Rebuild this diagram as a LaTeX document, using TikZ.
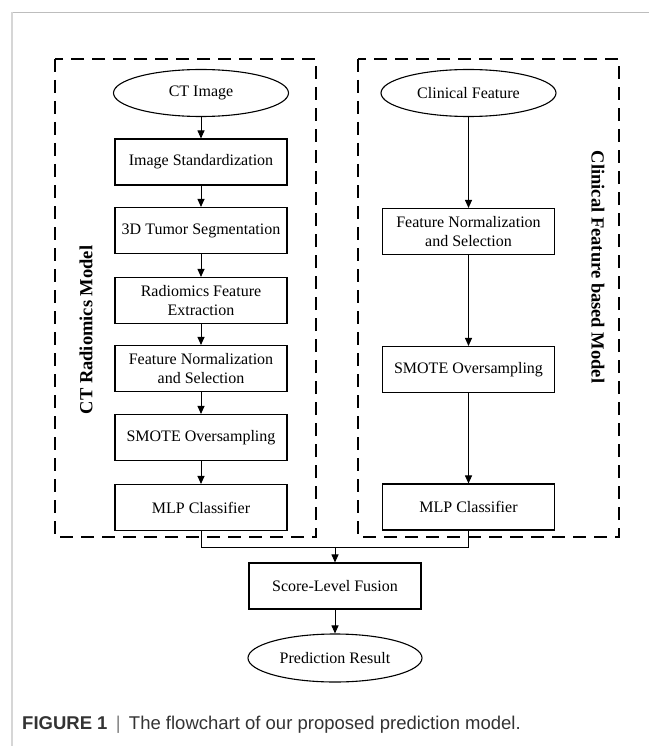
\documentclass[tikz,border=0pt]{standalone}
\usepackage{fontspec}
\setmainfont{Liberation Serif}
\newfontfamily\capfont{Liberation Sans}
\usetikzlibrary{arrows.meta,shapes.geometric}
\definecolor{framegray}{HTML}{BDBDBD}
\definecolor{framegrayl}{HTML}{D6D6D6}
\definecolor{captext}{HTML}{333333}
\tikzset{
  boxtext/.style={font=\fontsize{16}{19}\selectfont, align=center},
  procbox/.style={boxtext, draw, line width=1.1pt, rectangle, minimum width=172pt, minimum height=46pt, inner sep=0pt},
  termnode/.style={boxtext, draw, line width=1.1pt, ellipse, minimum width=175pt, minimum height=47pt, inner sep=0pt},
  conn/.style={line width=1pt},
  arr/.style={conn, -{Triangle[length=8pt,width=7pt]}},
  dashbox/.style={line width=1.9pt, dash pattern=on 13pt off 8pt},
  sidelabel/.style={font=\bfseries\fontsize{18.5}{20}\selectfont}
}
\begin{document}
\begin{tikzpicture}[x=1pt,y=-1pt]
\useasboundingbox (0,0) rectangle (649,746);
% outer frame
\draw[framegray, line width=1pt] (11,12.5) -- (649,12.5);
\draw[framegrayl, line width=2.2pt] (12,12) -- (12,746);

% dashed group boxes
\draw[dashbox] (55,59) rectangle (316,537);
\draw[dashbox] (358,59) rectangle (619,537);

\node[sidelabel, rotate=90] (lblL) at (86,330) {CT Radiomics Model};
\node[sidelabel, rotate=-90] (lblR) at (598,267) {Clinical Feature based Model};

% left column
\node[termnode] (ct) at (201,93) {CT Image};
\node[procbox] (s1) at (201,162) {Image Standardization};
\node[procbox] (s2) at (201,230.5) {3D Tumor Segmentation};
\node[procbox] (s3) at (201,300.5) {Radiomics Feature\\Extraction};
\node[procbox] (s4) at (201,368.5) {Feature Normalization\\and Selection};
\node[procbox] (s5) at (201,437.5) {SMOTE Oversampling};
\node[procbox] (s6) at (201,507.5) {MLP Classifier};

% right column
\node[termnode] (cf) at (468.5,93) {Clinical Feature};
\node[procbox] (r1) at (468.5,231.5) {Feature Normalization\\and Selection};
\node[procbox] (r2) at (468.5,369.5) {SMOTE Oversampling};
\node[procbox] (r3) at (468.5,507) {MLP Classifier};

% fusion
\node[procbox] (fus) at (335,586) {Score-Level Fusion};
\node[termnode, minimum width=174pt, minimum height=48pt] (pred) at (335,658) {Prediction Result};

% connectors left
\draw[arr] (ct) -- (s1);
\draw[arr] (s1) -- (s2);
\draw[arr] (s2) -- (s3);
\draw[arr] (s3) -- (s4);
\draw[arr] (s4) -- (s5);
\draw[arr] (s5) -- (s6);
% connectors right
\draw[arr] (cf) -- (r1);
\draw[arr] (r1) -- (r2);
\draw[arr] (r2) -- (r3);
% merge
\coordinate (jl) at (201,547);
\coordinate (jr) at (468.5,547);
\coordinate (jm) at (335,547);
\draw[conn] (s6.south) -- (jl) -- (jr) -- (r3.south);
\draw[arr] (jm) -- (fus.north);
\draw[arr] (fus) -- (pred);

% caption
\node[anchor=base west, inner sep=0pt, text=captext, font=\capfont\fontsize{18.5}{20}\selectfont] (cap) at (22,729)
  {\textbf{FIGURE 1}\hspace{0.45em}{\color{gray}|}\hspace{0.45em}The flowchart of our proposed prediction model.};
\end{tikzpicture}
\end{document}
